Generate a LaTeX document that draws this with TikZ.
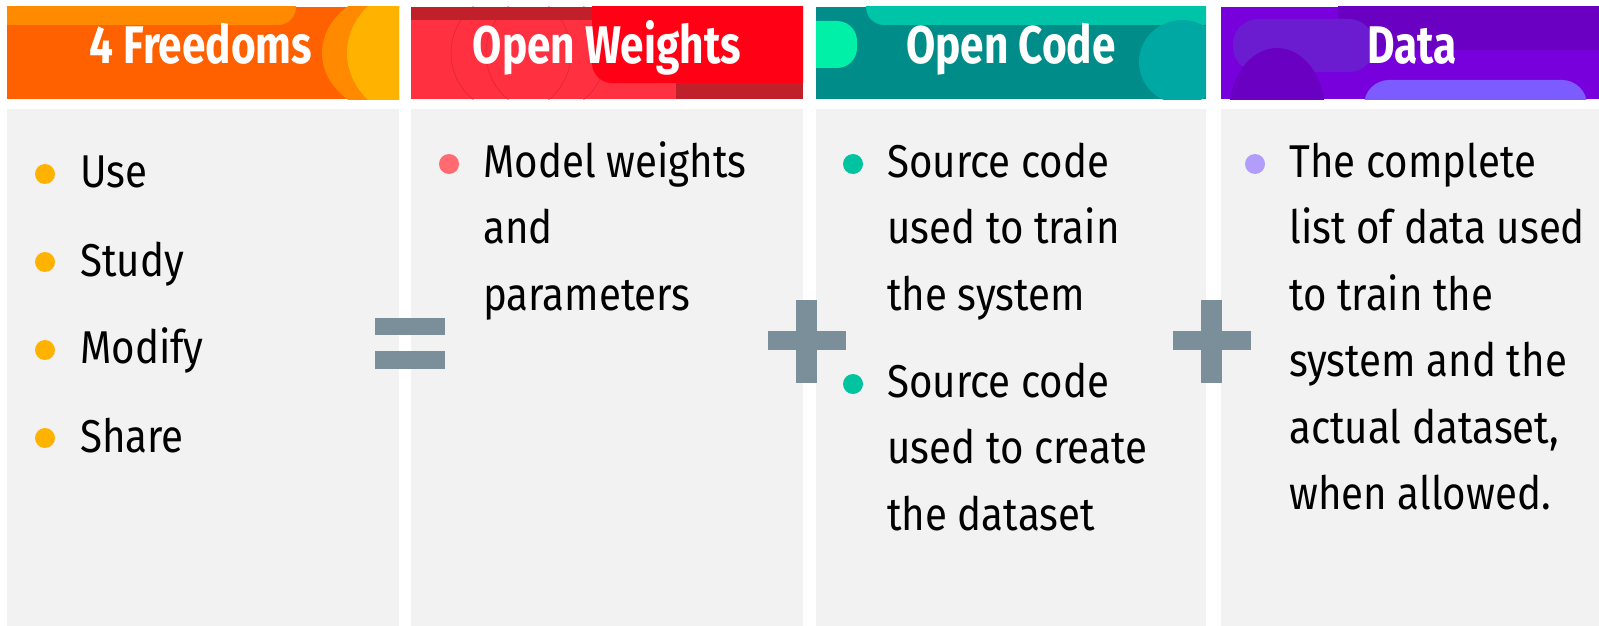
\documentclass[tikz,border=0pt]{standalone}
\usepackage{fontspec}
\setmainfont{Fira Sans}
\newfontfamily\itemfont[FakeStretch=0.875]{Fira Sans}
\newfontfamily\headfont[FakeStretch=0.8]{Fira Sans}

\definecolor{panel}{HTML}{F2F2F2}
\definecolor{slate}{HTML}{7A8F9A}
\definecolor{fOrange}{HTML}{FF6000}
\definecolor{fAmber}{HTML}{FF8A00}
\definecolor{fYellow}{HTML}{FFB300}
\definecolor{wRed}{HTML}{FF3040}
\definecolor{wDark}{HTML}{C0202A}
\definecolor{wBright}{HTML}{FF0014}
\definecolor{cTeal}{HTML}{008C88}
\definecolor{cTop}{HTML}{00C4A8}
\definecolor{cMint}{HTML}{00F0A8}
\definecolor{cSea}{HTML}{00A8A4}
\definecolor{dPurple}{HTML}{7800DC}
\definecolor{dDeep}{HTML}{6A00C2}
\definecolor{dMid}{HTML}{6C1CD0}
\definecolor{dLav}{HTML}{7C5CFF}
\definecolor{fDot}{HTML}{FFB300}
\definecolor{wDot}{HTML}{FF6B70}
\definecolor{cDot}{HTML}{00C4A0}
\definecolor{dDot}{HTML}{B39DFB}

\tikzset{
  head/.style={text=white, anchor=base, inner sep=0pt,
    font=\headfont\bfseries\fontsize{53}{60}\selectfont},
  word/.style={anchor=base west, inner sep=0pt,
    font=\itemfont\fontsize{46}{66.5}\selectfont},
  item/.style={anchor=north west, inner sep=0pt, align=left,
    font=\itemfont\fontsize{46}{66.5}\selectfont},
  dot/.style={circle, inner sep=0pt, minimum size=20pt},
  sign/.style={fill=slate}
}
\newcommand{\firstline}{\rule{0pt}{36pt}}

\begin{document}
\begin{tikzpicture}[x=1pt,y=-1pt]
    \useasboundingbox (0,0) rectangle (1599,626);
    \fill[white] (0,0) rectangle (1599,626);
    % panels
    \fill[panel] (7,109) rectangle (399,626);
    \fill[panel] (411,109) rectangle (803,626);
    \fill[panel] (816,109) rectangle (1206,626);
    \fill[panel] (1221,109) rectangle (1599,626);
    % header 1
    \begin{scope}
    \clip (7,7) rectangle (399,99);
    \fill[fOrange] (7,7) rectangle (399,99);
    \fill[fAmber, rounded corners=18pt] (-20,-20) rectangle (296,25);
    \fill[fAmber] (404,53) ellipse [x radius=82, y radius=64];
    \fill[fYellow] (434,53) ellipse [x radius=87, y radius=72];
    \end{scope}
    % header 2
    \begin{scope}
    \clip (411,7) rectangle (803,99);
    \fill[wRed] (411,7) rectangle (803,99);
    \fill[wDark] (411,7) rectangle (803,20);
    \fill[wDark] (676,70) rectangle (803,99);
    \fill[wBright, rounded corners=20pt] (592,-20) rectangle (830,83);
    \draw[wDark, line width=0.5pt, opacity=0.6] (511,53) ellipse [x radius=60, y radius=60];
    \draw[wDark, line width=0.5pt, opacity=0.6] (546,53) ellipse [x radius=60, y radius=60];
    \end{scope}
    % header 3
    \begin{scope}
    \clip (816,7) rectangle (1206,99);
    \fill[cTeal] (816,7) rectangle (1206,99);
    \fill[cTop, rounded corners=18pt] (866,-20) rectangle (1230,25);
    \fill[cMint, rounded corners=20pt] (780,21) rectangle (857,68);
    \fill[cSea] (1182,62) ellipse [x radius=43, y radius=42];
    \end{scope}
    % header 4
    \begin{scope}
    \clip (1221,7) rectangle (1599,99);
    \fill[dPurple] (1221,7) rectangle (1599,99);
    \fill[dDeep, rounded corners=25pt] (1338,-30) rectangle (1640,50);
    \fill[dMid, rounded corners=25pt] (1233,19) rectangle (1374,72);
    \fill[dDeep] (1277,112) ellipse [x radius=48, y radius=64];
    \fill[dLav, rounded corners=25pt] (1364,80) rectangle (1587,130);
    \end{scope}
    % titles
    \node[head] (H1) at (201,64) {4 Freedoms};
    \node[head] (H2) at (607,64) {Open Weights};
    \node[head] (H3) at (1011,64) {Open Code};
    \node[head] (H4) at (1412,64) {Data};
    % freedoms
    \node[dot, fill=fDot] (d1) at (45,174) {};
    \node[word] (use) at (80,187) {Use};
    \node[dot, fill=fDot] (d2) at (45,262) {};
    \node[word] (study) at (80,276) {Study};
    \node[dot, fill=fDot] (d3) at (45,350) {};
    \node[word] (modify) at (80,363) {Modify};
    \node[dot, fill=fDot] (d4) at (45,438) {};
    \node[word] (share) at (80,452) {Share};
    % weights
    \node[dot, fill=wDot] (w1) at (449,164) {};
    \node[item] (weights) at (483,141) {\firstline Model weights\\and\\parameters};
    % code
    \node[dot, fill=cDot] (c1) at (853,164) {};
    \node[item] (train) at (887,141) {\firstline Source code\\used to train\\the system};
    \node[dot, fill=cDot] (c2) at (853,384) {};
    \node[item] (create) at (887,361) {\firstline Source code\\used to create\\the dataset};
    % data
    \node[dot, fill=dDot] (p1) at (1255,164) {};
    \node[item] (list) at (1289,141) {\firstline The complete\\list of data used\\to train the\\system and the\\actual dataset,\\when allowed.};
    % signs
    \fill[sign] (375,318) rectangle (445,335);
    \fill[sign] (375,351) rectangle (445,369);
    \fill[sign] (796,300) rectangle (817,383);
    \fill[sign] (768,331) rectangle (846,350);
    \fill[sign] (1201,300) rectangle (1222,383);
    \fill[sign] (1173,331) rectangle (1251,350);
\end{tikzpicture}
\end{document}
